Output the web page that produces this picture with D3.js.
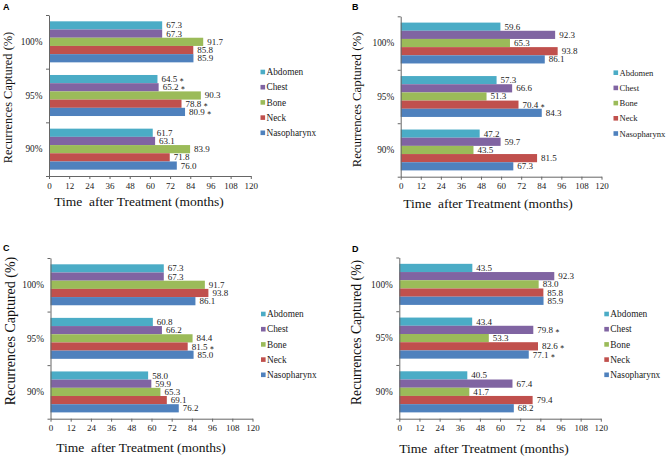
<!DOCTYPE html>
<html><head><meta charset="utf-8">
<script src="https://cdn.jsdelivr.net/npm/d3@7"></script>
<style>body{margin:0;background:#fff}svg{display:block}
.sf{font-family:"Liberation Serif","Times New Roman","DejaVu Serif",serif}
.sn{font-family:"Liberation Sans",Arial,"DejaVu Sans",sans-serif}
</style>
</head><body>
<svg id="c" width="669" height="456"></svg>
<script>
const categories = ["100%", "95%", "90%"];
const seriesNames = ["Abdomen", "Chest", "Bone", "Neck", "Nasopharynx"];
const seriesColors = ["#4BACC6", "#8064A2", "#9BBB59", "#C0504D", "#4F81BD"];
const xTicks = [0, 12, 24, 36, 48, 60, 72, 84, 96, 108, 120];
const panelLetters = ["A", "B", "C", "D"];
const xTitle = "Time  after Treatment (months)";
const yTitle = "Recurrences Captured (%)";

// values[category][series]
const valuesA = [[67.3, 67.3, 91.7, 85.8, 85.9], [64.5, 65.2, 90.3, 78.8, 80.9], [61.7, 63.1, 83.9, 71.8, 76.0]];
const starsA  = [[0, 0, 0, 0, 0], [1, 1, 0, 1, 1], [0, 0, 0, 0, 0]];
const valuesB = [[59.6, 92.3, 65.3, 93.8, 86.1], [57.3, 66.6, 51.3, 70.4, 84.3], [47.2, 59.7, 43.5, 81.5, 67.3]];
const starsB  = [[0, 0, 0, 0, 0], [0, 0, 0, 1, 0], [0, 0, 0, 0, 0]];
const valuesC = [[67.3, 67.3, 91.7, 93.8, 86.1], [60.8, 66.2, 84.4, 81.5, 85.0], [58.0, 59.9, 65.3, 69.1, 76.2]];
const starsC  = [[0, 0, 0, 0, 0], [0, 0, 0, 1, 0], [0, 0, 0, 0, 0]];
const valuesD = [[43.5, 92.3, 83.0, 85.8, 85.9], [43.4, 79.8, 53.3, 82.6, 77.1], [40.5, 67.4, 41.7, 79.4, 68.2]];
const starsD  = [[0, 0, 0, 0, 0], [0, 1, 0, 1, 1], [0, 0, 0, 0, 0]];

const panelValues = [valuesA, valuesB, valuesC, valuesD];
const panelStars = [starsA, starsB, starsC, starsD];

// layout (positions only)
const layout = [
  {x0: 49,    x1: 250.8, y0: 15,    y1: 176,   lx: 260.5, ly: 72,    lfs: 9.3, tx: 139,   ty: 201.7, yx: 7.5,   yy: 97.5,  yfs: 12.4, px: 3,   py: 9.5},
  {x0: 400.7, x1: 601.5, y0: 16.3,  y1: 176.7, lx: 613.5, ly: 72.7,  lfs: 8.6, tx: 488,   ty: 203,   yx: 356.7, yy: 99.5,  yfs: 12.8, px: 352, py: 10},
  {x0: 50.5,  x1: 252.5, y0: 258,   y1: 418.7, lx: 261,   ly: 314,   lfs: 9.3, tx: 141,   ty: 447,   yx: 10,    yy: 331,   yfs: 14,   px: 3,   py: 251},
  {x0: 399.3, x1: 600.8, y0: 257.5, y1: 418.7, lx: 604.3, ly: 314,   lfs: 9.4, tx: 484,   ty: 448,   yx: 356.7, yy: 332.5, yfs: 13.7, px: 352, py: 251.5}
];

const svg = d3.select("#c");

layout.forEach((p, pi) => {
  const vals = panelValues[pi], stars = panelStars[pi];
  const g = svg.append("g");
  const x = d3.scaleLinear().domain([0, 120]).range([p.x0, p.x1]);
  const yCat = d3.scaleBand().domain(categories).range([p.y0, p.y1]).padding(0);
  const ySer = d3.scaleBand().domain(seriesNames).range([0, yCat.bandwidth()]).paddingInner(0).paddingOuter(0.77);
  const yBound = d3.scaleLinear().domain([0, categories.length]).range([p.y0, p.y1]);

  // bars
  categories.forEach((c, ci) => {
    seriesNames.forEach((s, si) => {
      g.append("rect")
        .attr("x", x(0)).attr("y", yCat(c) + ySer(s))
        .attr("width", x(vals[ci][si]) - x(0)).attr("height", ySer.bandwidth())
        .attr("fill", seriesColors[si]);
    });
  });
  // labels
  categories.forEach((c, ci) => {
    seriesNames.forEach((s, si) => {
      const v = vals[ci][si];
      const t = g.append("text").attr("class", "sf")
        .attr("x", x(v) + 4).attr("y", yCat(c) + ySer(s) + ySer.bandwidth() / 2)
        .attr("dy", "0.33em")
        .attr("font-size", 9).attr("fill", "#222");
      t.append("tspan").text(v.toFixed(1));
      if (stars[ci][si]) t.append("tspan").attr("dx", 2).attr("font-size", 7).attr("font-weight", "bold").text("\u2217");
    });
  });

  // x axis
  const xa = g.append("g").attr("transform", `translate(0,${p.y1})`)
    .call(d3.axisBottom(x).tickValues(xTicks).tickSize(3).tickPadding(3.3).tickSizeOuter(0));
  xa.attr("font-family", null);
  xa.selectAll("text").attr("class", "sf").attr("font-size", 9).attr("fill", "#222");
  xa.selectAll("line,path").attr("stroke", "#666");

  // y axis
  const ya = g.append("g").attr("transform", `translate(${p.x0},0)`)
    .call(d3.axisLeft(yBound).tickValues(d3.range(categories.length + 1)).tickFormat("").tickSize(3).tickSizeOuter(0));
  ya.selectAll("line,path").attr("stroke", "#666");

  // category labels
  categories.forEach(c => {
    g.append("text").attr("class", "sf")
      .attr("x", p.x0 - 6.5).attr("y", yCat(c) + yCat.bandwidth() / 2)
      .attr("dy", "0.35em").attr("text-anchor", "end")
      .attr("font-size", 9.3).attr("fill", "#222")
      .text(c);
  });

  // titles
  g.append("text").attr("class", "sf").attr("x", p.tx).attr("y", p.ty).attr("dy", "0.35em")
    .attr("text-anchor", "middle").attr("font-size", 13.5)
    .attr("fill", "#111").style("white-space", "pre").text(xTitle);
  g.append("text").attr("class", "sf").attr("transform", `translate(${p.yx},${p.yy}) rotate(-90)`)
    .attr("dy", "0.35em").attr("text-anchor", "middle")
    .attr("font-size", p.yfs).attr("fill", "#111").text(yTitle);

  // legend
  seriesNames.forEach((s, si) => {
    const yy = p.ly + si * 15.2;
    g.append("rect").attr("x", p.lx).attr("y", yy - 2.3).attr("width", 4.6).attr("height", 4.6).attr("fill", seriesColors[si]);
    g.append("text").attr("class", "sf").attr("x", p.lx + 6).attr("y", yy).attr("dy", "0.35em")
      .attr("font-size", p.lfs).attr("fill", "#222").text(s);
  });

  // panel letter
  g.append("text").attr("class", "sn").attr("x", p.px).attr("y", p.py)
    .attr("font-weight", "bold")
    .attr("font-size", 9).attr("fill", "#000").text(panelLetters[pi]);
});
</script>
</body></html>
